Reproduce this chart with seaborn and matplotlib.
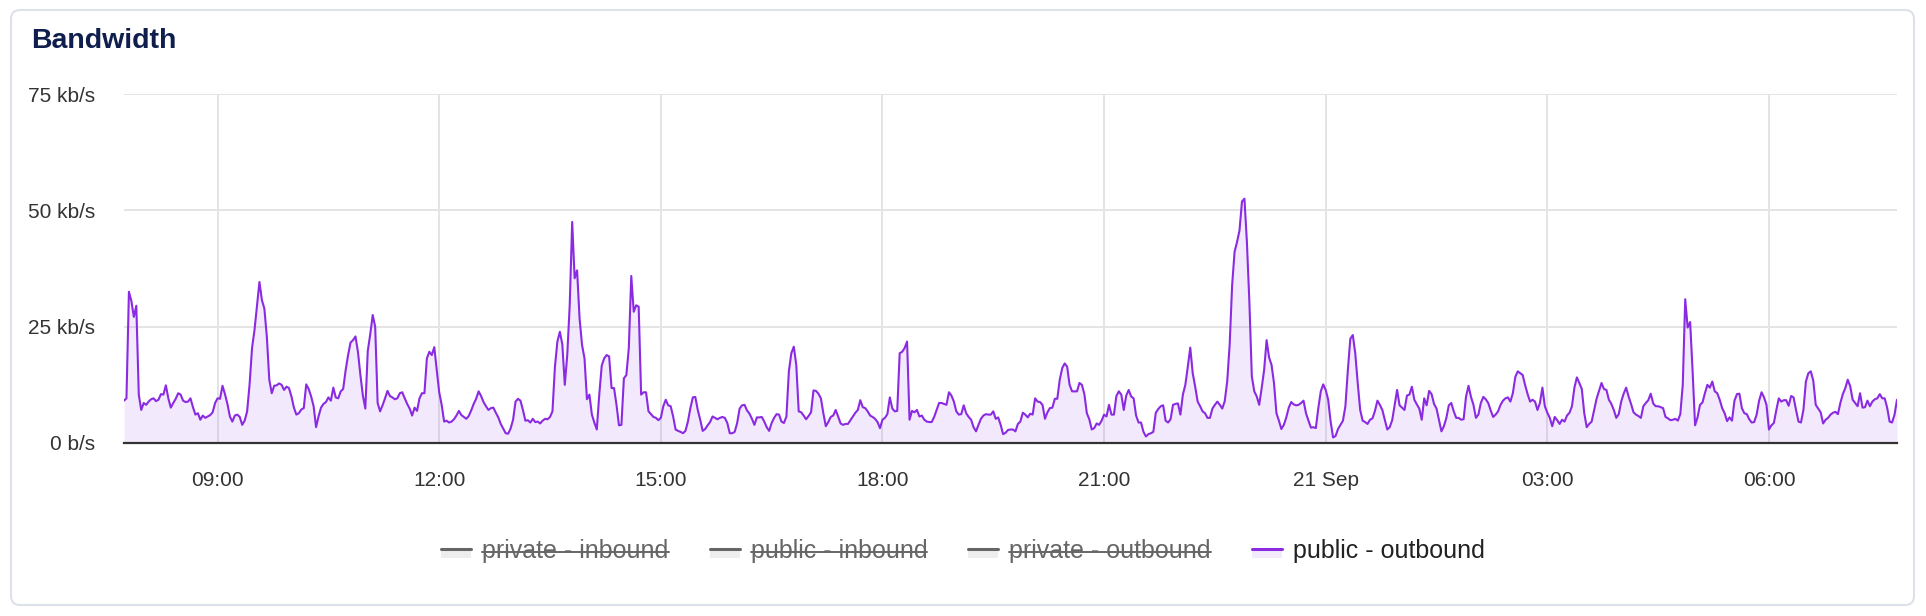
import numpy as np
import pandas as pd
import seaborn as sns
import matplotlib
matplotlib.use("Agg")
import matplotlib.pyplot as plt
import matplotlib.dates as mdates
from matplotlib.lines import Line2D
from matplotlib.patches import Rectangle, FancyBboxPatch
from matplotlib.transforms import IdentityTransform
from matplotlib.ticker import FuncFormatter

# public - outbound bandwidth in kb/s, one sample every 2 minutes from 07:44
start = "2023-09-20 07:44"
step = "2min"

kbps_morning = [
    9.1, 9.6, 32.5, 30.5, 27.1, 29.5, 10.4, 7.1, 8.6, 8.2,
    8.9, 9.4, 9.6, 9.0, 9.3, 10.5, 10.4, 12.4, 9.6, 7.6,
    8.6, 9.5, 10.7, 10.4, 9.1, 8.8, 8.9, 9.6, 7.7, 6.1,
    6.4, 5.0, 5.9, 5.4, 5.7, 6.0, 6.6, 8.6, 9.6, 9.5,
    12.3, 10.5, 8.4, 5.7, 4.6, 5.9, 6.1, 5.6, 3.9, 4.8,
    6.8, 12.6, 20.4, 24.3, 29.5, 34.6, 30.7, 28.9, 22.9, 13.6,
    10.7, 12.3, 12.4, 12.8, 12.5, 11.4, 12.1, 11.8, 10.0, 7.6,
    6.1, 6.4, 7.2, 7.5, 12.6, 11.6, 10.0, 7.9, 3.4, 5.7,
    7.6, 8.4, 8.8, 9.8, 9.1, 11.9, 9.8, 9.6, 11.1, 11.6,
    15.6, 18.9, 21.6, 22.1, 22.9, 19.6, 14.6, 10.2, 7.4, 19.8,
    23.4, 27.5, 25.0, 8.6, 6.8, 8.1, 9.6, 11.2, 10.1, 9.8,
    9.4, 9.6, 10.7, 10.9, 9.6, 8.4, 7.4, 5.9, 7.6, 6.9,
    9.6, 10.7, 10.7, 18.2, 19.6, 18.9, 20.6, 15.7, 10.9, 8.2,
    4.6, 4.8, 4.4, 4.6, 5.1, 5.9, 6.9, 6.0, 5.6, 5.2,
    5.8, 7.0, 8.4, 9.5, 11.1, 10.1, 8.8, 7.9, 7.1, 7.5,
    7.6, 6.5, 5.5, 4.1, 3.1, 2.1, 2.0, 3.1, 5.0, 8.9,
    9.5, 9.1, 7.1, 4.8, 4.9, 4.4, 5.2, 4.5, 4.6, 4.2,
    4.8, 5.2, 5.1, 5.6, 6.8,
]
kbps_afternoon = [
    16.4, 21.8, 23.9, 21.2, 12.5, 18.9, 29.6, 47.5, 35.4, 37.1,
    26.8, 21.1, 18.2, 9.4, 10.4, 6.1, 4.4, 2.9, 10.4, 16.6,
    18.2, 18.9, 18.6, 11.8, 11.8, 8.2, 3.8, 3.9, 13.9, 14.6,
    20.4, 35.9, 28.2, 29.6, 29.3, 10.4, 10.9, 10.9, 6.8, 6.2,
    5.6, 5.4, 4.9, 5.4, 7.9, 9.3, 8.1, 7.9, 5.7, 2.9,
    2.6, 2.4, 2.1, 2.6, 4.6, 7.5, 9.8, 9.9, 7.1, 5.0,
    2.6, 3.0, 3.8, 4.5, 5.7, 5.4, 5.1, 5.4, 5.6, 5.4,
    4.3, 2.1, 2.1, 2.4, 4.3, 7.4, 8.1, 8.2, 7.0, 6.3,
    5.2, 3.9, 5.5, 5.5, 5.6, 4.6, 3.4, 2.6, 4.3, 5.4,
    6.2, 6.1, 4.6, 4.3, 5.7, 15.4, 19.3, 20.7, 16.8, 6.8,
    6.6, 5.9, 5.1, 5.8, 6.6, 11.3, 11.2, 10.6, 9.6, 6.4,
    3.6, 4.5, 5.6, 5.9, 7.1, 5.7, 4.2, 3.9, 4.1, 4.1,
    4.9, 5.7, 6.5, 7.1, 9.2, 7.7, 7.5, 6.8, 5.9, 5.6,
    5.2, 4.5, 3.2, 5.0, 5.4, 6.2, 9.8, 7.4, 6.8, 6.9,
    19.3, 19.6, 20.4, 21.8, 5.0, 6.9, 6.6, 7.1, 5.7, 5.9,
    5.0, 4.6, 4.5, 4.5, 5.6, 7.1, 8.6, 8.6, 8.4, 8.2,
    10.9, 10.2, 8.9, 6.8, 6.1, 6.2, 8.1, 6.4, 5.6, 5.0,
    3.4, 2.5, 3.9, 5.2, 5.9, 6.2, 6.1,
]
kbps_evening = [
    6.1, 6.8, 5.2, 5.5, 3.9, 1.9, 2.2, 2.8, 2.9, 2.9,
    2.5, 4.1, 4.6, 6.5, 6.1, 5.5, 6.3, 6.1, 9.6, 8.9,
    8.8, 8.2, 5.2, 6.6, 7.5, 7.6, 9.5, 9.5, 13.6, 16.1,
    17.1, 16.4, 12.5, 11.1, 11.1, 11.1, 12.9, 12.5, 10.5, 6.4,
    5.1, 2.9, 3.2, 4.2, 3.9, 4.8, 6.1, 5.7, 8.2, 6.1,
    6.1, 10.1, 11.1, 10.4, 7.1, 10.2, 11.4, 10.0, 9.6, 5.9,
    4.4, 4.4, 2.4, 1.4, 1.9, 2.1, 2.4, 6.5, 7.3, 7.9,
    8.1, 4.8, 4.4, 5.1, 8.2, 8.4, 8.5, 6.1, 10.4, 12.5,
    16.4, 20.5, 15.0, 12.1, 8.9, 7.9, 6.8, 6.4, 5.4, 5.4,
    7.4, 8.2, 8.9, 8.2, 7.4, 9.0, 13.2, 21.1, 33.9, 41.1,
    43.2, 45.7, 51.9, 52.5, 43.2, 30.4, 14.3, 11.1, 10.0, 8.2,
    11.8, 15.7, 22.1, 18.4, 16.8, 12.9, 6.4, 4.8, 3.0, 3.9,
    5.5, 7.6, 8.8, 8.3, 8.1, 8.2, 8.6, 9.1, 6.4, 4.8,
    3.3, 3.4, 3.2, 7.5, 11.1, 12.6, 11.4, 9.3, 4.6, 1.2,
    1.5, 3.0, 3.9, 4.8, 7.9, 15.7, 22.4, 23.2, 19.3, 12.9,
    7.1, 4.8, 4.5, 4.1, 5.0, 5.3, 6.9, 9.1, 8.2, 7.1,
    5.0, 2.9, 3.4, 4.9, 8.2, 11.4, 8.1, 7.6, 7.1, 10.2,
    10.4, 12.1, 9.3, 8.3, 7.4, 5.0, 9.6,
]
kbps_night = [
    8.1, 11.2, 10.5, 8.4, 7.4, 5.0, 2.5, 3.6, 5.4, 8.1,
    8.6, 6.8, 5.4, 5.4, 5.0, 5.1, 10.0, 12.3, 9.9, 8.2,
    5.4, 6.1, 8.6, 9.9, 9.4, 8.6, 7.0, 5.6, 6.1, 6.8,
    8.2, 9.1, 9.6, 9.8, 8.9, 10.7, 14.2, 15.4, 15.0, 14.6,
    12.4, 10.5, 8.9, 9.3, 8.9, 7.1, 8.6, 11.9, 7.9, 6.5,
    5.4, 3.6, 5.6, 4.9, 4.1, 5.0, 4.6, 5.9, 6.5, 7.9,
    11.9, 14.1, 12.9, 11.6, 6.4, 3.4, 4.1, 4.6, 7.1, 9.5,
    11.2, 12.9, 11.6, 11.4, 9.3, 8.4, 7.1, 5.4, 6.2, 8.9,
    10.6, 11.9, 10.0, 8.4, 6.6, 6.1, 5.8, 5.4, 7.9, 8.6,
    9.2, 10.6, 8.5, 7.9, 7.9, 7.7, 7.5, 5.6, 5.3, 4.9,
    5.0, 5.2, 4.8, 6.2, 12.5, 30.9, 24.8, 26.0, 15.4, 3.8,
    5.5, 8.2, 8.7, 10.7, 12.5, 11.9, 13.2, 11.1, 10.7, 9.3,
    7.5, 6.4, 4.7, 5.5, 4.8, 9.1, 10.5, 10.6, 7.5, 6.4,
    6.2, 5.1, 4.4, 4.5, 6.1, 9.1, 10.9, 9.8, 8.2, 2.9,
    3.8, 4.3, 7.1, 9.6, 8.9, 9.2, 9.2, 8.0, 10.1, 9.8,
    7.1, 4.6, 4.4, 7.1, 13.2, 15.0, 15.4, 13.4, 8.2, 7.4,
    6.6, 4.2, 5.0, 5.4, 6.1, 6.5, 6.7, 6.2, 8.6, 10.5,
    11.8, 13.6, 12.2, 9.3, 8.6, 7.9, 10.7, 7.6, 7.7, 9.1,
    7.9, 8.9, 9.4, 9.6, 10.5, 9.6, 9.6, 7.6, 4.6, 4.4,
    6.1, 9.3,
]

y_ticks = [0, 25, 50, 75]
y_labels = ["0 b/s", "25 kb/s", "50 kb/s", "75 kb/s"]
series_names = ["private - inbound", "public - inbound", "private - outbound", "public - outbound"]
series_shown = [False, False, False, True]

purple = "#8a2be2"
W, H = 1926, 616

values = kbps_morning + kbps_afternoon + kbps_evening + kbps_night
df = pd.DataFrame({
    "time": pd.date_range(start, periods=len(values), freq=step),
    "kbps": values,
})

sns.set_style("white")
plt.rcParams["font.family"] = ["Liberation Sans", "DejaVu Sans"]

fig = plt.figure(figsize=(W / 100, H / 100), dpi=100)
ax = fig.add_axes([124 / W, 1 - 443 / H, (1897 - 124) / W, (443 - 94) / H])
ax.set_facecolor("none")

# card frame
card = FancyBboxPatch((11, 11), 1903, 595, boxstyle="round,pad=0,rounding_size=9",
                      transform=IdentityTransform(), facecolor="white",
                      edgecolor="#dde2ea", lw=1.5, zorder=-1)
fig.add_artist(card)

fig.text(31, H - 41, "Bandwidth", transform=IdentityTransform(), fontsize=20.5,
         fontweight="bold", color="#0f1e4d", va="center", ha="left")

ax.fill_between(df["time"], df["kbps"], 0, color=purple, alpha=0.1, lw=0, zorder=2)
sns.lineplot(data=df, x="time", y="kbps", ax=ax, color=purple, lw=1.5, zorder=3)

ax.set_xlim(df["time"].iloc[0], df["time"].iloc[-1])
ax.set_ylim(0, 75)
ax.set_yticks(y_ticks)
ax.set_yticklabels(y_labels)
ax.xaxis.set_major_locator(mdates.HourLocator(byhour=range(0, 24, 3)))
ax.xaxis.set_major_formatter(FuncFormatter(
    lambda v, pos: mdates.num2date(v).strftime("%d %b") if mdates.num2date(v).hour == 0
    else mdates.num2date(v).strftime("%H:%M")))
ax.set_xlabel("")
ax.set_ylabel("")

ax.grid(True, color="#e4e4e4", lw=1.4, zorder=0)
ax.set_axisbelow(True)
for s in ["top", "right", "left"]:
    ax.spines[s].set_visible(False)
ax.spines["bottom"].set_color("#333333")
ax.spines["bottom"].set_linewidth(1.6)
ax.spines["bottom"].set_zorder(4)
ax.tick_params(axis="x", length=5, width=1.5, color="#333333", pad=15,
               labelsize=15, labelcolor="#333333")
ax.tick_params(axis="y", length=0, pad=21, labelsize=15, labelcolor="#333333")

# legend row, laid out by measured text widths
renderer = fig.canvas.get_renderer()
leg_y = H - 551
texts = []
for name, shown in zip(series_names, series_shown):
    t = fig.text(0, leg_y, name, transform=IdentityTransform(), fontsize=18,
                 color="#222222" if shown else "#666666", va="center", ha="left")
    texts.append(t)
widths = [t.get_window_extent(renderer).width for t in texts]
mark_w, mark_gap, item_gap = 30, 11, 41
total = sum(mark_w + mark_gap + w for w in widths) + item_gap * (len(widths) - 1)
x = W / 2 - total / 2
for t, w, shown in zip(texts, widths, series_shown):
    fig.add_artist(Rectangle((x, H - 558), mark_w, 8, transform=IdentityTransform(),
                             facecolor="#f3eafc" if shown else "#eeeeee", lw=0))
    fig.add_artist(Line2D([x, x + mark_w], [H - 549, H - 549], transform=IdentityTransform(),
                          color=purple if shown else "#666666", lw=2.2))
    t.set_x(x + mark_w + mark_gap)
    if not shown:
        bb = t.get_window_extent(renderer)
        sy = bb.y0 + 0.47 * bb.height
        fig.add_artist(Line2D([bb.x0, bb.x1], [sy, sy], transform=IdentityTransform(),
                              color="#666666", lw=1.4))
    x += mark_w + mark_gap + w + item_gap

fig.savefig("out.png", dpi=100)
